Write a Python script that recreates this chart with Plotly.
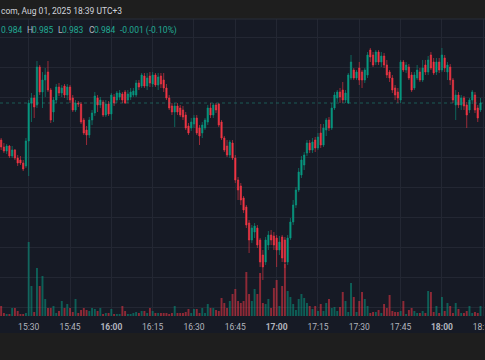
import plotly.graph_objects as go
import pandas as pd

# ---------------- data (1-minute candles, 2025-08-01 from 15:20) ----------------
start_time = "2025-08-01 15:20"

opens = [
    0.9803, 0.9796, 0.9792, 0.9797, 0.9787, 0.9793, 0.9785, 0.9783, 0.9780, 0.9777,
    0.9802, 0.9840, 0.9845, 0.9838, 0.9876, 0.9851, 0.9863, 0.9871, 0.9853, 0.9831,
    0.9843, 0.9856, 0.9850, 0.9857, 0.9848, 0.9856, 0.9845, 0.9833, 0.9840, 0.9839,
    0.9823, 0.9813, 0.9808, 0.9823, 0.9830, 0.9845, 0.9838, 0.9841, 0.9828, 0.9839,
    0.9829, 0.9846, 0.9843, 0.9846, 0.9849, 0.9851, 0.9843, 0.9846, 0.9848, 0.9848,
    0.9860, 0.9857, 0.9867, 0.9857, 0.9867, 0.9859, 0.9868, 0.9858, 0.9867, 0.9863,
    0.9855, 0.9845, 0.9837, 0.9831, 0.9837, 0.9835, 0.9833, 0.9828, 0.9817, 0.9815,
    0.9819, 0.9825, 0.9815, 0.9810, 0.9815, 0.9821, 0.9835, 0.9828, 0.9838, 0.9839,
    0.9821, 0.9805, 0.9797, 0.9788, 0.9800, 0.9785, 0.9763, 0.9757, 0.9745, 0.9736,
    0.9720, 0.9703, 0.9711, 0.9715, 0.9703, 0.9688, 0.9681, 0.9698, 0.9708, 0.9707,
    0.9705, 0.9693, 0.9706, 0.9703, 0.9681, 0.9705, 0.9721, 0.9738, 0.9753, 0.9768,
    0.9778, 0.9790, 0.9800, 0.9793, 0.9803, 0.9795, 0.9810, 0.9798, 0.9813, 0.9823,
    0.9815, 0.9835, 0.9845, 0.9851, 0.9853, 0.9843, 0.9840, 0.9865, 0.9873, 0.9865,
    0.9875, 0.9871, 0.9863, 0.9868, 0.9893, 0.9888, 0.9881, 0.9891, 0.9881, 0.9887,
    0.9878, 0.9871, 0.9865, 0.9855, 0.9851, 0.9843, 0.9881, 0.9873, 0.9876, 0.9868,
    0.9855, 0.9865, 0.9871, 0.9863, 0.9878, 0.9871, 0.9888, 0.9881, 0.9871, 0.9881,
    0.9873, 0.9885, 0.9871, 0.9876, 0.9863, 0.9838, 0.9848, 0.9838, 0.9845, 0.9838,
    0.9833, 0.9843, 0.9848, 0.9835, 0.9833,
]
highs = [
    0.9805, 0.9800, 0.9799, 0.9798, 0.9797, 0.9794, 0.9788, 0.9787, 0.9783, 0.9805,
    0.9843, 0.9850, 0.9848, 0.9882, 0.9878, 0.9871, 0.9875, 0.9882, 0.9855, 0.9846,
    0.9859, 0.9860, 0.9858, 0.9859, 0.9859, 0.9858, 0.9848, 0.9843, 0.9842, 0.9841,
    0.9825, 0.9817, 0.9826, 0.9833, 0.9851, 0.9848, 0.9846, 0.9843, 0.9843, 0.9842,
    0.9850, 0.9849, 0.9852, 0.9853, 0.9851, 0.9853, 0.9853, 0.9855, 0.9855, 0.9863,
    0.9863, 0.9870, 0.9870, 0.9870, 0.9871, 0.9871, 0.9870, 0.9870, 0.9870, 0.9870,
    0.9859, 0.9848, 0.9840, 0.9840, 0.9840, 0.9838, 0.9837, 0.9831, 0.9820, 0.9825,
    0.9828, 0.9828, 0.9818, 0.9821, 0.9825, 0.9838, 0.9840, 0.9840, 0.9840, 0.9840,
    0.9823, 0.9807, 0.9803, 0.9803, 0.9803, 0.9788, 0.9766, 0.9760, 0.9747, 0.9738,
    0.9723, 0.9718, 0.9720, 0.9718, 0.9705, 0.9693, 0.9706, 0.9712, 0.9713, 0.9711,
    0.9708, 0.9707, 0.9708, 0.9706, 0.9708, 0.9725, 0.9743, 0.9756, 0.9775, 0.9787,
    0.9791, 0.9803, 0.9803, 0.9805, 0.9806, 0.9810, 0.9819, 0.9819, 0.9825, 0.9826,
    0.9840, 0.9851, 0.9853, 0.9855, 0.9861, 0.9853, 0.9870, 0.9888, 0.9875, 0.9873,
    0.9881, 0.9873, 0.9875, 0.9891, 0.9895, 0.9891, 0.9893, 0.9893, 0.9891, 0.9890,
    0.9883, 0.9873, 0.9868, 0.9858, 0.9855, 0.9883, 0.9883, 0.9881, 0.9879, 0.9871,
    0.9871, 0.9878, 0.9875, 0.9883, 0.9883, 0.9887, 0.9891, 0.9885, 0.9885, 0.9885,
    0.9895, 0.9888, 0.9881, 0.9879, 0.9865, 0.9853, 0.9851, 0.9848, 0.9847, 0.9841,
    0.9845, 0.9853, 0.9851, 0.9838, 0.9845,
]
lows = [
    0.9793, 0.9790, 0.9789, 0.9785, 0.9785, 0.9783, 0.9777, 0.9778, 0.9772, 0.9775,
    0.9767, 0.9821, 0.9825, 0.9835, 0.9848, 0.9835, 0.9846, 0.9851, 0.9820, 0.9821,
    0.9840, 0.9847, 0.9846, 0.9845, 0.9843, 0.9840, 0.9831, 0.9831, 0.9836, 0.9819,
    0.9808, 0.9798, 0.9805, 0.9818, 0.9827, 0.9831, 0.9835, 0.9826, 0.9826, 0.9827,
    0.9823, 0.9837, 0.9840, 0.9843, 0.9840, 0.9839, 0.9840, 0.9843, 0.9846, 0.9846,
    0.9853, 0.9855, 0.9855, 0.9853, 0.9856, 0.9856, 0.9856, 0.9853, 0.9855, 0.9851,
    0.9843, 0.9833, 0.9828, 0.9816, 0.9828, 0.9826, 0.9823, 0.9813, 0.9808, 0.9812,
    0.9815, 0.9808, 0.9798, 0.9805, 0.9813, 0.9818, 0.9825, 0.9825, 0.9830, 0.9816,
    0.9803, 0.9791, 0.9786, 0.9785, 0.9783, 0.9760, 0.9743, 0.9738, 0.9730, 0.9715,
    0.9690, 0.9700, 0.9705, 0.9695, 0.9676, 0.9663, 0.9678, 0.9693, 0.9698, 0.9693,
    0.9676, 0.9688, 0.9681, 0.9675, 0.9678, 0.9703, 0.9718, 0.9735, 0.9751, 0.9765,
    0.9773, 0.9787, 0.9790, 0.9790, 0.9791, 0.9793, 0.9795, 0.9796, 0.9807, 0.9812,
    0.9813, 0.9833, 0.9841, 0.9840, 0.9840, 0.9840, 0.9839, 0.9863, 0.9863, 0.9863,
    0.9858, 0.9855, 0.9860, 0.9865, 0.9881, 0.9876, 0.9878, 0.9878, 0.9876, 0.9875,
    0.9865, 0.9861, 0.9850, 0.9843, 0.9840, 0.9840, 0.9871, 0.9870, 0.9863, 0.9851,
    0.9853, 0.9863, 0.9861, 0.9861, 0.9868, 0.9868, 0.9873, 0.9868, 0.9868, 0.9870,
    0.9871, 0.9871, 0.9863, 0.9858, 0.9840, 0.9823, 0.9835, 0.9833, 0.9833, 0.9815,
    0.9830, 0.9839, 0.9830, 0.9821, 0.9831,
]
closes = [
    0.9796, 0.9792, 0.9797, 0.9787, 0.9793, 0.9785, 0.9780, 0.9780, 0.9774, 0.9802,
    0.9840, 0.9845, 0.9836, 0.9876, 0.9851, 0.9863, 0.9868, 0.9853, 0.9823, 0.9843,
    0.9856, 0.9850, 0.9855, 0.9848, 0.9856, 0.9843, 0.9833, 0.9840, 0.9839, 0.9821,
    0.9810, 0.9808, 0.9823, 0.9830, 0.9847, 0.9838, 0.9843, 0.9828, 0.9839, 0.9829,
    0.9848, 0.9840, 0.9850, 0.9850, 0.9843, 0.9840, 0.9849, 0.9851, 0.9852, 0.9860,
    0.9856, 0.9868, 0.9857, 0.9865, 0.9860, 0.9868, 0.9858, 0.9866, 0.9859, 0.9855,
    0.9845, 0.9835, 0.9831, 0.9837, 0.9831, 0.9828, 0.9826, 0.9815, 0.9810, 0.9821,
    0.9825, 0.9810, 0.9807, 0.9818, 0.9823, 0.9835, 0.9828, 0.9838, 0.9833, 0.9818,
    0.9805, 0.9793, 0.9788, 0.9801, 0.9785, 0.9763, 0.9753, 0.9743, 0.9733, 0.9718,
    0.9703, 0.9715, 0.9717, 0.9698, 0.9681, 0.9676, 0.9703, 0.9708, 0.9703, 0.9698,
    0.9693, 0.9701, 0.9685, 0.9681, 0.9705, 0.9721, 0.9738, 0.9753, 0.9771, 0.9783,
    0.9788, 0.9800, 0.9793, 0.9801, 0.9795, 0.9806, 0.9798, 0.9815, 0.9823, 0.9815,
    0.9835, 0.9848, 0.9851, 0.9846, 0.9843, 0.9850, 0.9868, 0.9881, 0.9865, 0.9871,
    0.9863, 0.9863, 0.9873, 0.9888, 0.9886, 0.9878, 0.9891, 0.9881, 0.9887, 0.9878,
    0.9868, 0.9865, 0.9853, 0.9848, 0.9845, 0.9881, 0.9873, 0.9878, 0.9865, 0.9853,
    0.9868, 0.9873, 0.9863, 0.9875, 0.9871, 0.9883, 0.9875, 0.9870, 0.9881, 0.9873,
    0.9888, 0.9875, 0.9878, 0.9863, 0.9843, 0.9848, 0.9838, 0.9845, 0.9837, 0.9828,
    0.9843, 0.9851, 0.9833, 0.9825, 0.9840,
]
volumes = [
    10, 3, 2, 2, 8, 8, 5, 2, 2, 3,
    74, 30, 4, 48, 30, 40, 17, 8, 8, 10,
    3, 5, 15, 8, 12, 8, 4, 17, 3, 6,
    8, 6, 5, 8, 7, 5, 8, 2, 3, 3,
    7, 2, 2, 2, 10, 5, 2, 2, 3, 4,
    3, 5, 5, 3, 8, 5, 3, 3, 3, 3,
    3, 2, 3, 10, 3, 3, 3, 4, 7, 3,
    7, 7, 3, 8, 3, 12, 8, 8, 6, 5,
    18, 13, 8, 15, 22, 27, 15, 13, 15, 44,
    22, 15, 27, 22, 43, 13, 12, 17, 8, 28,
    36, 10, 30, 52, 25, 19, 12, 6, 17, 22,
    18, 13, 10, 7, 10, 5, 12, 5, 13, 17,
    8, 9, 5, 9, 24, 15, 4, 33, 19, 4,
    15, 24, 17, 10, 3, 4, 4, 6, 3, 12,
    8, 21, 5, 4, 4, 5, 15, 2, 6, 8,
    5, 3, 3, 5, 3, 25, 24, 4, 10, 3,
    19, 5, 13, 10, 3, 13, 7, 3, 3, 5,
    10, 3, 4, 3, 10,
]
tick_labels = ["15:30", "15:45", "16:00", "16:15", "16:30", "16:45", "17:00",
               "17:15", "17:30", "17:45", "18:00", "18:15"]
header_text = "com, Aug 01, 2025 18:39 UTC+3"
legend_o, legend_h, legend_l, legend_c = "0.984", "0.985", "0.983", "0.984"
legend_chg = "-0.001 (-0.10%)"

# ---------------- style ----------------
W, H = 485, 360
BG = "#161a25"
BAND = "#1e1e1e"
GRID = "#232733"
UP = "#089981"
DOWN = "#f23645"
UP_V = "rgba(8,153,129,0.55)"
DOWN_V = "rgba(242,54,69,0.55)"
TXT = "#b2b5be"
VAL = "#22ab94"
FONT = "Roboto"

TOP_PX, BOT_PX = 19, 316  # plot area in pixels


def py(px):
    return (H - px) / H


times = pd.date_range(start_time, periods=len(closes), freq="min")
vol_colors = [UP_V if c >= o else DOWN_V for o, c in zip(opens, closes)]

fig = go.Figure()
fig.add_trace(go.Candlestick(
    x=times, open=opens, high=highs, low=lows, close=closes,
    increasing=dict(line=dict(color=UP, width=0.6), fillcolor=UP),
    decreasing=dict(line=dict(color=DOWN, width=0.6), fillcolor=DOWN),
    whiskerwidth=0, hoverinfo="skip", yaxis="y",
))
fig.add_trace(go.Bar(
    x=times, y=volumes, marker=dict(color=vol_colors, line=dict(width=0)),
    yaxis="y2", hoverinfo="skip",
))

ticktext = [("<b>%s</b>" % t) if t.endswith(":00") else t for t in tick_labels]
tickvals = ["2025-08-01 " + t for t in tick_labels]

fig.update_layout(
    width=W, height=H,
    margin=dict(l=0, r=0, t=0, b=0),
    paper_bgcolor=BG, plot_bgcolor=BG,
    showlegend=False, hovermode=False,
    bargap=0.3,
    font=dict(family=FONT, color=TXT, size=9),
    xaxis=dict(
        domain=[0, 1],
        range=["2025-08-01 15:19:35", "2025-08-01 18:15:38"],
        rangeslider=dict(visible=False),
        showgrid=True, gridcolor=GRID, gridwidth=1,
        tickvals=tickvals, ticktext=ticktext,
        ticks="", showline=False, zeroline=False,
        tickfont=dict(family=FONT, size=8.5, color=TXT),
        ticklabelstandoff=4, ticklabeloverflow="allow",
        automargin=False, fixedrange=True,
    ),
    yaxis=dict(
        domain=[py(BOT_PX), py(TOP_PX)],
        range=[0.9627, 0.9924],
        tick0=0.9906, dtick=0.003,
        showgrid=True, gridcolor=GRID, gridwidth=1,
        showticklabels=False, ticks="", zeroline=False, showline=False,
        automargin=False,
    ),
    yaxis2=dict(
        overlaying="y", range=[0, BOT_PX - TOP_PX],
        visible=False, showgrid=False, zeroline=False,
    ),
)

shapes = [
    # header band
    dict(type="rect", xref="paper", yref="paper", x0=0, x1=1, y0=py(18.5), y1=1,
         fillcolor=BAND, line=dict(width=0), layer="above"),
    dict(type="line", xref="paper", yref="paper", x0=0, x1=1, y0=py(19), y1=py(19),
         line=dict(color="#2a2e39", width=1), layer="above"),
    # bottom band
    dict(type="rect", xref="paper", yref="paper", x0=0, x1=1, y0=0, y1=py(333),
         fillcolor=BAND, line=dict(width=0), layer="above"),
    # last price dotted line
    dict(type="line", xref="paper", yref="y", x0=0, x1=1, y0=closes[-1], y1=closes[-1],
         line=dict(color="rgba(34,171,148,0.45)", width=1, dash="dot"), layer="above"),
]
fig.update_layout(shapes=shapes)

ann = [dict(text=header_text, x=0, xanchor="left", y=py(11), yanchor="middle",
            font=dict(family=FONT, size=8.5, color="#d1d4dc"))]
legend_items = [
    (legend_o, 0, VAL), ("H", 26, TXT), (legend_h, 31, VAL),
    ("L", 57, TXT), (legend_l, 61, VAL), ("C", 88, TXT), (legend_c, 92.5, VAL),
    (legend_chg, 119, VAL),
]
for txt, xp, col in legend_items:
    ann.append(dict(text=txt, x=xp / W, xanchor="left", y=py(30), yanchor="middle",
                    font=dict(family=FONT, size=8.5, color=col)))
for a in ann:
    a.update(xref="paper", yref="paper", showarrow=False, borderpad=0)
fig.update_layout(annotations=ann)

fig.write_html("out.html", config={"displayModeBar": False, "staticPlot": True},
               post_script="document.body.style.margin='0px';")
